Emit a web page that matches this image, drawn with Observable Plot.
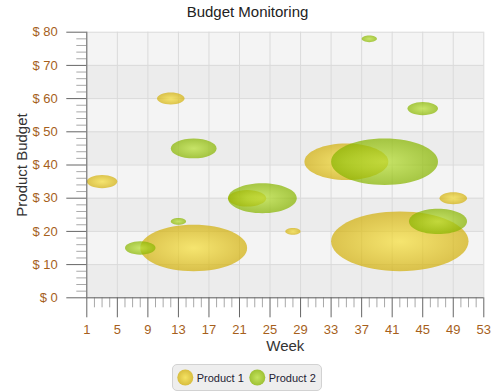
<!DOCTYPE html>
<html><head><meta charset="utf-8">
<script src="https://cdn.jsdelivr.net/npm/d3@7"></script>
<script src="https://cdn.jsdelivr.net/npm/@observablehq/plot@0.6"></script>
<style>
body{margin:0;background:#fff;font-family:"Liberation Sans",Arial,sans-serif;}
#title{width:495px;height:24px;line-height:24px;text-align:center;font-size:15px;color:#222;}
#chart svg{display:block;}
#legend{position:relative;width:495px;height:32px;}
#legend .box{position:absolute;left:172px;top:4px;width:148px;height:25px;border:1px solid #d2d2d2;border-radius:5px;background:#eeeeee;}
#legend svg{display:block;}
</style></head><body>
<svg width="0" height="0" style="position:absolute"><defs>
<radialGradient id="g1" cx="50%" cy="50%" r="50%"><stop offset="0" stop-color="#f6df3c"/><stop offset="1" stop-color="#d2b00d"/></radialGradient>
<radialGradient id="g2" cx="50%" cy="50%" r="50%"><stop offset="0" stop-color="#b8e034"/><stop offset="1" stop-color="#88b500"/></radialGradient>
</defs></svg>
<div id="title">Budget Monitoring</div>
<div id="chart"></div>
<div id="legend"></div>
<script>
// ---- data ----
const seriesNames = ["Product 1", "Product 2"];
const weeks1  = [3, 12, 15, 22, 28, 35, 42, 49];
const budget1 = [35, 60, 15, 30, 20, 41, 17, 30];
const size1   = [2, 1.8, 7, 2.5, 1, 5.5, 9, 1.8];
const weeks2  = [8, 13, 15, 24, 38, 40, 45, 47];
const budget2 = [15, 23, 45, 30, 78, 41, 57, 23];
const size2   = [2, 1, 3, 4.5, 1, 7, 2, 3.8];
const xTicks = [1, 5, 9, 13, 17, 21, 25, 29, 33, 37, 41, 45, 49, 53];
const xTickLabels = ["1","5","9","13","17","21","25","29","33","37","41","45","49","53"];
const yTicks = [0, 10, 20, 30, 40, 50, 60, 70, 80];
const yTickLabels = ["$ 0","$ 10","$ 20","$ 30","$ 40","$ 50","$ 60","$ 70","$ 80"];
const xLabel = "Week";
const yLabel = "Product Budget";

const p1 = weeks1.map((w, i) => ({week: w, budget: budget1[i], size: size1[i]}));
const p2 = weeks2.map((w, i) => ({week: w, budget: budget2[i], size: size2[i]}));
const xMinor = d3.range(xTicks[0], xTicks[xTicks.length - 1] + 1).filter(d => !xTicks.includes(d));
const yMinor = d3.range(0, 81, 2).filter(d => !yTicks.includes(d));
const bands = yTicks.filter((d, i) => i % 2 === 0 && i < yTicks.length - 1);

// ---- layout ----
const W = 495, H = 336, ML = 86.3, MR = 11.7, MT = 7.7, MB = 62.7;
const pxX = (W - ML - MR) / (xTicks[xTicks.length - 1] - xTicks[0]);
const pxY = (H - MT - MB) / (yTicks[yTicks.length - 1] - yTicks[0]);
// bubble: radius along x = size in week units, along y = size in budget units
const ellipse = {
  draw(ctx, area) {
    const r = Math.sqrt(area / Math.PI);
    const a = r * pxX, b = r * pxY, k = 0.5522847498;
    ctx.moveTo(a, 0);
    ctx.bezierCurveTo(a, k * b, k * a, b, 0, b);
    ctx.bezierCurveTo(-k * a, b, -a, k * b, -a, 0);
    ctx.bezierCurveTo(-a, -k * b, -k * a, -b, 0, -b);
    ctx.bezierCurveTo(k * a, -b, a, -k * b, a, 0);
    ctx.closePath();
  }
};
const brown = "#a65f1c";
const chart = Plot.plot({
  width: W, height: H,
  marginLeft: ML, marginRight: MR, marginTop: MT, marginBottom: MB,
  style: {fontFamily: "Liberation Sans, Arial, sans-serif", fontSize: "13px", background: "white"},
  x: {domain: [xTicks[0], xTicks[xTicks.length - 1]]},
  y: {domain: [yTicks[0], yTicks[yTicks.length - 1]]},
  r: {type: "identity"},
  marks: [
    Plot.frame({fill: "#f4f4f4", stroke: null}),
    Plot.rect(bands, {y1: d => d, y2: d => d + 10, fill: "#ececec"}),
    Plot.gridX(xTicks, {stroke: "#dadada", strokeOpacity: 1}),
    Plot.gridY(yTicks, {stroke: "#dadada", strokeOpacity: 1}),
    Plot.dot(p1, {x: "week", y: "budget", r: "size", symbol: ellipse, fill: "url(#g1)", fillOpacity: 0.72, stroke: null, sort: null}),
    Plot.dot(p2, {x: "week", y: "budget", r: "size", symbol: ellipse, fill: "url(#g2)", fillOpacity: 0.72, stroke: null, sort: null}),
    Plot.axisX(xMinor, {tickSize: 10, fill: "none", stroke: "#a8a8a8", label: null}),
    Plot.axisX(xTicks, {tickSize: 20, fill: "none", stroke: "#666", label: null}),
    Plot.axisY(yMinor, {tickSize: 10, fill: "none", stroke: "#a8a8a8", label: null}),
    Plot.axisY(yTicks, {tickSize: 20, fill: "none", stroke: "#666", label: null}),
    Plot.ruleX([xTicks[0]], {stroke: "#666"}),
    Plot.ruleY([yTicks[0]], {stroke: "#666"}),
    Plot.text(yTicks, {y: d => d, text: (d, i) => yTickLabels[i], frameAnchor: "left", dx: -29, textAnchor: "end", lineAnchor: "middle", fill: brown, fontSize: 13}),
    Plot.text(xTicks, {x: d => d, text: (d, i) => xTickLabels[i], frameAnchor: "bottom", dy: 36, lineAnchor: "bottom", fill: brown, fontSize: 13}),
    Plot.text([xLabel], {text: d => d, frameAnchor: "bottom", dy: 53.4, lineAnchor: "bottom", fill: "#333", fontSize: 15}),
    Plot.text([yLabel], {text: d => d, frameAnchor: "left", dx: -59.5, rotate: -90, textAnchor: "middle", lineAnchor: "bottom", fill: "#333", fontSize: 15})
  ]
});
document.getElementById("chart").appendChild(chart);

// ---- legend ----
const grads = ["url(#g1)", "url(#g2)"];
const box = d3.select("#legend").append("div").attr("class", "box");
const lsvg = box.append("svg").attr("width", 148).attr("height", 25);
const lx = [12.3, 84.3];
seriesNames.forEach((name, i) => {
  lsvg.append("circle").attr("cx", lx[i]).attr("cy", 12.5).attr("r", 8)
    .attr("fill", grads[i]).attr("fill-opacity", 0.78);
  lsvg.append("text").attr("x", lx[i] + 11.4).attr("y", 16.8)
    .attr("font-size", 11).attr("fill", "#1e2233")
    .attr("font-family", "Liberation Sans, Arial, sans-serif").text(name);
});
</script>
</body></html>
